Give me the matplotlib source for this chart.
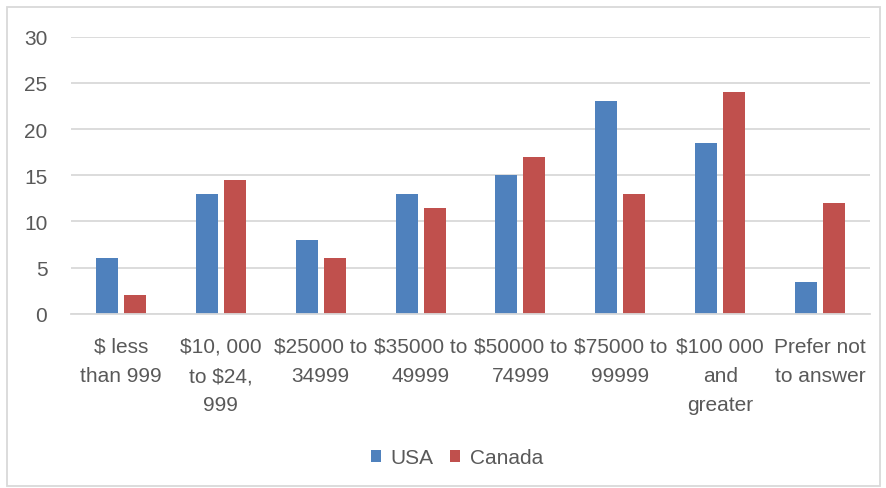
import numpy as np
import matplotlib as mpl
import matplotlib.pyplot as plt
from matplotlib.patches import Rectangle

# Office-style palette
colors = ['#4F81BD', '#C0504D']
text_gray = '#595959'
grid_gray = '#D9D9D9'

mpl.rcParams['font.family'] = ['Liberation Sans Narrow', 'Liberation Sans', 'DejaVu Sans']
mpl.rcParams['font.size'] = 15

categories = ['$ less\nthan 999', '$10, 000\nto $24,\n999', '$25000 to\n34999',
              '$35000 to\n49999', '$50000 to\n74999', '$75000 to\n99999',
              '$100 000\nand\ngreater', 'Prefer not\nto answer']
usa = [6, 13, 8, 13, 15, 23, 18.5, 3.5]
canada = [2, 14.5, 6, 11.5, 17, 13, 24, 12]

fig = plt.figure(figsize=(8.86, 4.89), dpi=100)
ax = fig.add_axes([0.0801, 0.356, 0.9019, 0.567])

x = np.arange(len(categories))
w = 0.22
ax.bar(x - 0.14, usa, w, color=colors[0], label='USA', zorder=3)
ax.bar(x + 0.14, canada, w, color=colors[1], label='Canada', zorder=3)

ax.set_xlim(-0.5, len(categories) - 0.5)
ax.set_ylim(0, 30)
ax.set_yticks(np.arange(0, 31, 5))
ax.set_xticks(x)
ax.set_xticklabels(categories, linespacing=1.68)

ax.grid(axis='y', color=grid_gray, linewidth=1.3, zorder=0)
for s in ['top', 'right', 'left']:
    ax.spines[s].set_visible(False)
ax.spines['bottom'].set_color(grid_gray)
ax.spines['bottom'].set_linewidth(1.3)
ax.spines['bottom'].set_zorder(4)

ax.tick_params(axis='y', length=0, pad=17, colors=text_gray, labelsize=15)
ax.tick_params(axis='x', length=0, pad=16.5, colors=text_gray, labelsize=15)

leg = fig.legend(loc='center', bbox_to_anchor=(0.516, 0.062), ncol=2, frameon=False,
                 handlelength=0.48, handleheight=0.48, handletextpad=0.45,
                 columnspacing=0.8, fontsize=15)
for t in leg.get_texts():
    t.set_color(text_gray)

# light chart-area border
fig.patches.append(Rectangle((7 / 886, 2 / 489), 873 / 886, 479 / 489, transform=fig.transFigure,
                             fill=False, edgecolor=grid_gray, linewidth=1.3))

fig.savefig('out.png', dpi=100)
